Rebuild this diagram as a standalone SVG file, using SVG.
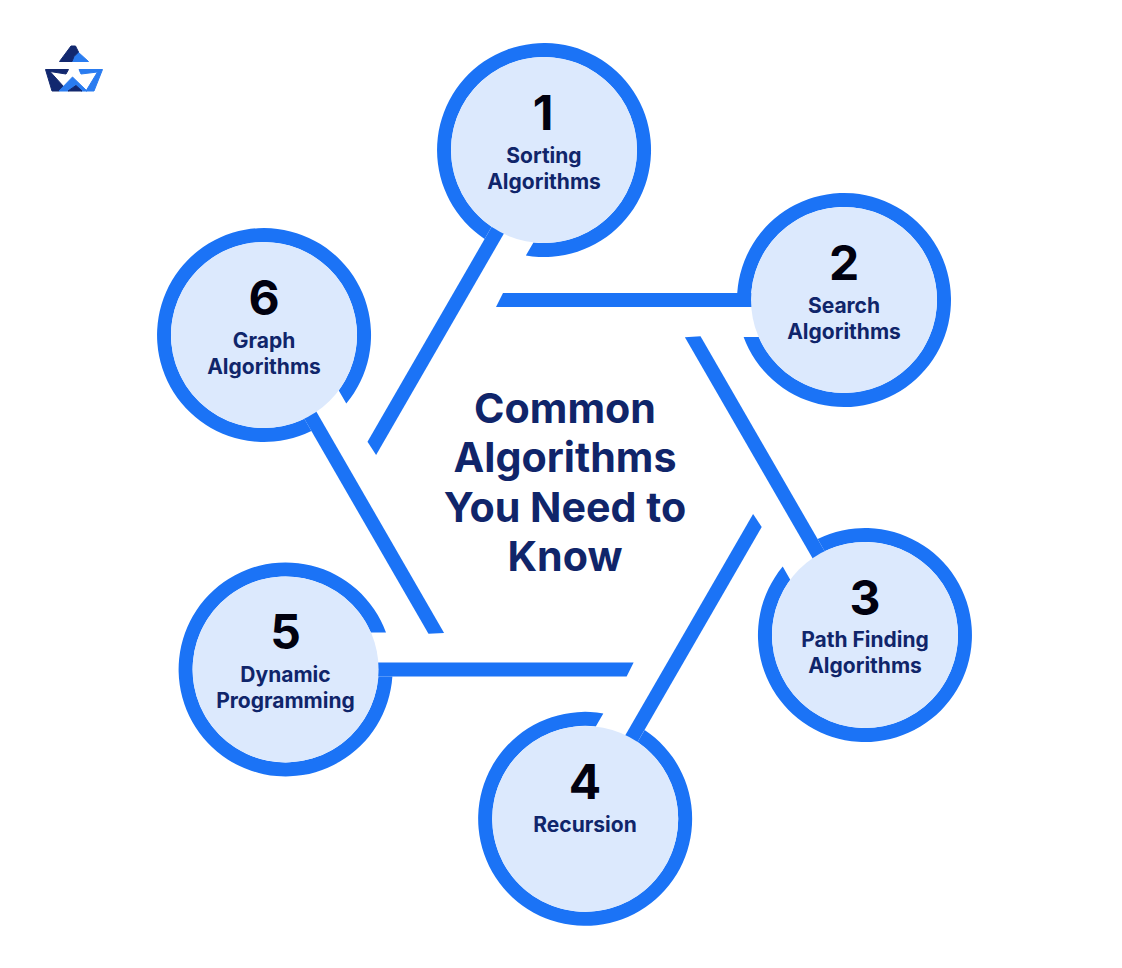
<svg xmlns="http://www.w3.org/2000/svg" width="1122" height="968" viewBox="0 0 1122 968">
<style>
.ring,.conn{fill:#1b73f6}
.disc{fill:#dce9fd}
text{font-family:Inter,"Liberation Sans",sans-serif;text-anchor:middle}
.num{font-size:48px;font-weight:700;fill:#01010f}
.lab{font-size:21px;font-weight:700;fill:#10256a}
.title{font-size:41.2px;font-weight:700;fill:#10256a}
.lg-d{fill:#12286f;stroke:#12286f;stroke-width:1;stroke-linejoin:round}
.lg-b{fill:#2a7cf0;stroke:#2a7cf0;stroke-width:1;stroke-linejoin:round}
</style>
<defs>
<path id="arc" d="M737.23 293A107 107 0 1 1 743.6 337L758.7 337A93 93 0 1 0 751.26 293Z"/>
<polygon id="bar" points="503,293 760,293 760,307 496,307"/>
</defs>
<rect width="1122" height="968" fill="#ffffff"/>
<g id="logo">
<polygon class="lg-b" points="78,52 88.5,61.5 72,61.5 74,57"/>
<polygon class="lg-d" points="71,46 75.5,46 78.5,52 74,56.5 72,61.5 59.5,61.5"/>
<polygon class="lg-d" points="45.5,69.5 68.5,69.5 66,74 50,71.5 64,87 59,91 52,91"/>
<polygon class="lg-b" points="59,91 72.5,77 87,91 81,91 76,85.5 68,91"/>
<polygon class="lg-d" points="68,91 76,85.5 82,91"/>
<polygon class="lg-b" points="79,69.5 102.5,69.5 94,91 86,91 97.5,72 81,74"/>
</g>
<g id="connectors">
<use href="#bar" class="conn" transform="translate(-.4 -.5) rotate(-60 564.8 484.7)"/>
<use href="#bar" class="conn"/>
<use href="#bar" class="conn" transform="translate(.6 .9) rotate(60 564.8 484.7)"/>
<use href="#bar" class="conn" transform="rotate(120 564.8 484.7)"/>
<use href="#bar" class="conn" transform="rotate(180 564.8 484.7)"/>
<use href="#bar" class="conn" transform="translate(-1.2 -.2) rotate(240 564.8 484.7)"/>
</g>
<g id="node-1">
<use href="#arc" class="ring" transform="translate(-.4 -.5) rotate(-60 564.8 484.7)"/>
<circle class="disc" cx="544" cy="150" r="93"/>
<text class="num" x="543" y="130">1</text>
<text class="lab" x="544" y="163">Sorting</text>
<text class="lab" x="544" y="189">Algorithms</text>
</g>
<g id="node-2">
<use href="#arc" class="ring"/>
<circle class="disc" cx="844" cy="300" r="93"/>
<text class="num" x="844" y="280">2</text>
<text class="lab" x="844" y="313">Search</text>
<text class="lab" x="844" y="339">Algorithms</text>
</g>
<g id="node-3">
<use href="#arc" class="ring" transform="translate(.6 .9) rotate(60 564.8 484.7)"/>
<circle class="disc" cx="865" cy="635" r="93"/>
<text class="num" x="865" y="615">3</text>
<text class="lab" x="865" y="647">Path Finding</text>
<text class="lab" x="865" y="673">Algorithms</text>
</g>
<g id="node-4">
<use href="#arc" class="ring" transform="rotate(120 564.8 484.7)"/>
<circle class="disc" cx="585.2" cy="818.9" r="93"/>
<text class="num" x="585" y="799">4</text>
<text class="lab" x="585" y="832">Recursion</text>
</g>
<g id="node-5">
<use href="#arc" class="ring" transform="rotate(180 564.8 484.7)"/>
<circle class="disc" cx="285.6" cy="669.4" r="93"/>
<text class="num" x="285.5" y="649">5</text>
<text class="lab" x="285.5" y="682">Dynamic</text>
<text class="lab" x="285.5" y="708">Programming</text>
</g>
<g id="node-6">
<use href="#arc" class="ring" transform="translate(-1.2 -.2) rotate(240 564.8 484.7)"/>
<circle class="disc" cx="264" cy="335" r="93"/>
<text class="num" x="264" y="315">6</text>
<text class="lab" x="264" y="348">Graph</text>
<text class="lab" x="264" y="374">Algorithms</text>
</g>
<g id="title">
<text class="title" x="565" y="423">Common</text>
<text class="title" x="565" y="472">Algorithms</text>
<text class="title" x="565" y="522">You Need to</text>
<text class="title" x="565" y="571">Know</text>
</g>
</svg>
